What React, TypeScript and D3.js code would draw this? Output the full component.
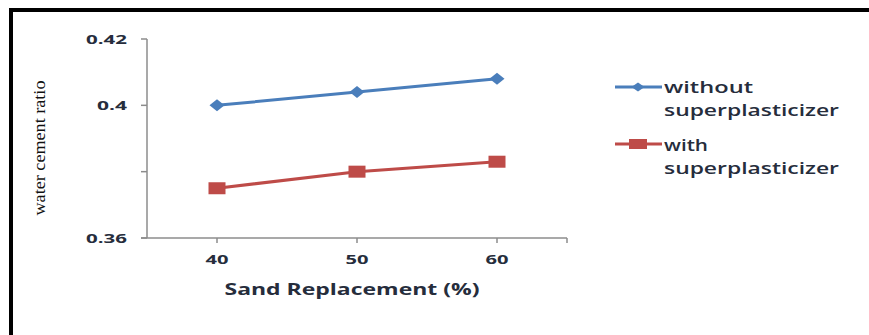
import React from "react";
import * as d3 from "d3";

// Sand replacement levels (%) and water–cement ratios for each mix
const sandReplacement = [40, 50, 60];
const withoutSP = [0.4, 0.404, 0.408];
const withSP = [0.375, 0.38, 0.383];

const yTicks = [0.36, 0.38, 0.4, 0.42];
const yTickLabels = ["0.36", "", "0.4", "0.42"];
const xTicks = [40, 50, 60];
const xTickLabels = ["40", "50", "60"];

const seriesNames = [
  ["without", "superplasticizer"],
  ["with", "superplasticizer"],
];

const W = 869;
const H = 335;
const BLUE = "#4a7ebb";
const RED = "#be4b48";
const TEXT = "#262d3c";
const AXIS = "#8c8c8c";
const FONT = "'Open Sans', 'Liberation Sans', sans-serif";

export default function App() {
  const x = d3.scaleLinear().domain([35, 65]).range([147, 567]);
  const y = d3.scaleLinear().domain([0.36, 0.42]).range([238, 39]);

  const line = d3
    .line<number>()
    .x((_, i) => x(sandReplacement[i]))
    .y((d) => y(d));

  const diamond = (cx: number, cy: number, w: number, h: number) =>
    `M${cx - w / 2},${cy} L${cx},${cy - h / 2} L${cx + w / 2},${cy} L${cx},${cy + h / 2} Z`;

  const legendY = [87, 144];
  const legendBase = [
    [93, 116],
    [151, 174],
  ];

  return (
    <svg
      width={W}
      height={H}
      style={{ position: "absolute", left: 0, top: 0, background: "#fff" }}
    >
      {/* frame */}
      <line x1={9} x2={W} y1={10} y2={10} stroke="#000" strokeWidth={4} />
      <line x1={11} x2={11} y1={8} y2={H} stroke="#000" strokeWidth={4} />

      {/* y axis */}
      <line x1={x(35)} x2={x(35)} y1={y(0.42)} y2={y(0.36)} stroke={AXIS} strokeWidth={1.5} />
      {yTicks.map((t, i) => (
        <g key={t}>
          <line x1={x(35) - 6} x2={x(35)} y1={y(t)} y2={y(t)} stroke={AXIS} strokeWidth={1.5} />
          {yTickLabels[i] && (
            <text
              x={127}
              y={y(t) + 4.5}
              textAnchor="end"
              fontFamily={FONT}
              fontWeight={700}
              fontSize={12.5}
              fill={TEXT}
              textLength={yTickLabels[i].length === 4 ? 41 : 30}
              lengthAdjust="spacingAndGlyphs"
            >
              {yTickLabels[i]}
            </text>
          )}
        </g>
      ))}

      {/* x axis */}
      <line x1={x(35) - 6} x2={x(65)} y1={y(0.36)} y2={y(0.36)} stroke={AXIS} strokeWidth={1.5} />
      {[...xTicks, 65].map((t) => (
        <line key={t} x1={x(t)} x2={x(t)} y1={y(0.36)} y2={y(0.36) + 5} stroke={AXIS} strokeWidth={1.5} />
      ))}
      {xTicks.map((t, i) => (
        <text
          key={t}
          x={x(t)}
          y={264}
          textAnchor="middle"
          fontFamily={FONT}
          fontWeight={700}
          fontSize={12.5}
          fill={TEXT}
          textLength={23}
          lengthAdjust="spacingAndGlyphs"
        >
          {xTickLabels[i]}
        </text>
      ))}

      {/* axis titles */}
      <text
        x={352}
        y={295}
        textAnchor="middle"
        fontFamily={FONT}
        fontWeight={700}
        fontSize={16.5}
        fill={TEXT}
        textLength={255}
        lengthAdjust="spacingAndGlyphs"
      >
        Sand Replacement (%)
      </text>
      <text
        transform="translate(45,148) rotate(-90)"
        textAnchor="middle"
        fontFamily="'Liberation Serif', 'DejaVu Serif', serif"
        fontSize={17}
        fill="#111"
        textLength={135}
        lengthAdjust="spacingAndGlyphs"
      >
        water cement ratio
      </text>

      {/* series */}
      <path d={line(withoutSP) ?? ""} fill="none" stroke={BLUE} strokeWidth={3} />
      {withoutSP.map((v, i) => (
        <path key={i} d={diamond(x(sandReplacement[i]), y(v), 15, 12)} fill={BLUE} />
      ))}
      <path d={line(withSP) ?? ""} fill="none" stroke={RED} strokeWidth={3} />
      {withSP.map((v, i) => (
        <rect
          key={i}
          x={x(sandReplacement[i]) - 8.5}
          y={y(v) - 6}
          width={17}
          height={12}
          fill={RED}
        />
      ))}

      {/* legend */}
      {seriesNames.map((names, i) => {
        const color = i === 0 ? BLUE : RED;
        const ly = legendY[i];
        return (
          <g key={i}>
            <line x1={615} x2={662} y1={ly} y2={ly} stroke={color} strokeWidth={3} />
            {i === 0 ? (
              <path d={diamond(638, ly, 13, 9)} fill={color} />
            ) : (
              <rect x={629} y={ly - 5} width={18} height={10} fill={color} />
            )}
            <text
              x={664}
              y={legendBase[i][0]}
              fontFamily={FONT}
              fontWeight={600}
              fontSize={15.5}
              fill={TEXT}
              textLength={names[0].length === 7 ? 89 : 44}
              lengthAdjust="spacingAndGlyphs"
            >
              {names[0]}
            </text>
            <text
              x={664}
              y={legendBase[i][1]}
              fontFamily={FONT}
              fontWeight={600}
              fontSize={15.5}
              fill={TEXT}
              textLength={175}
              lengthAdjust="spacingAndGlyphs"
            >
              {names[1]}
            </text>
          </g>
        );
      })}
    </svg>
  );
}
